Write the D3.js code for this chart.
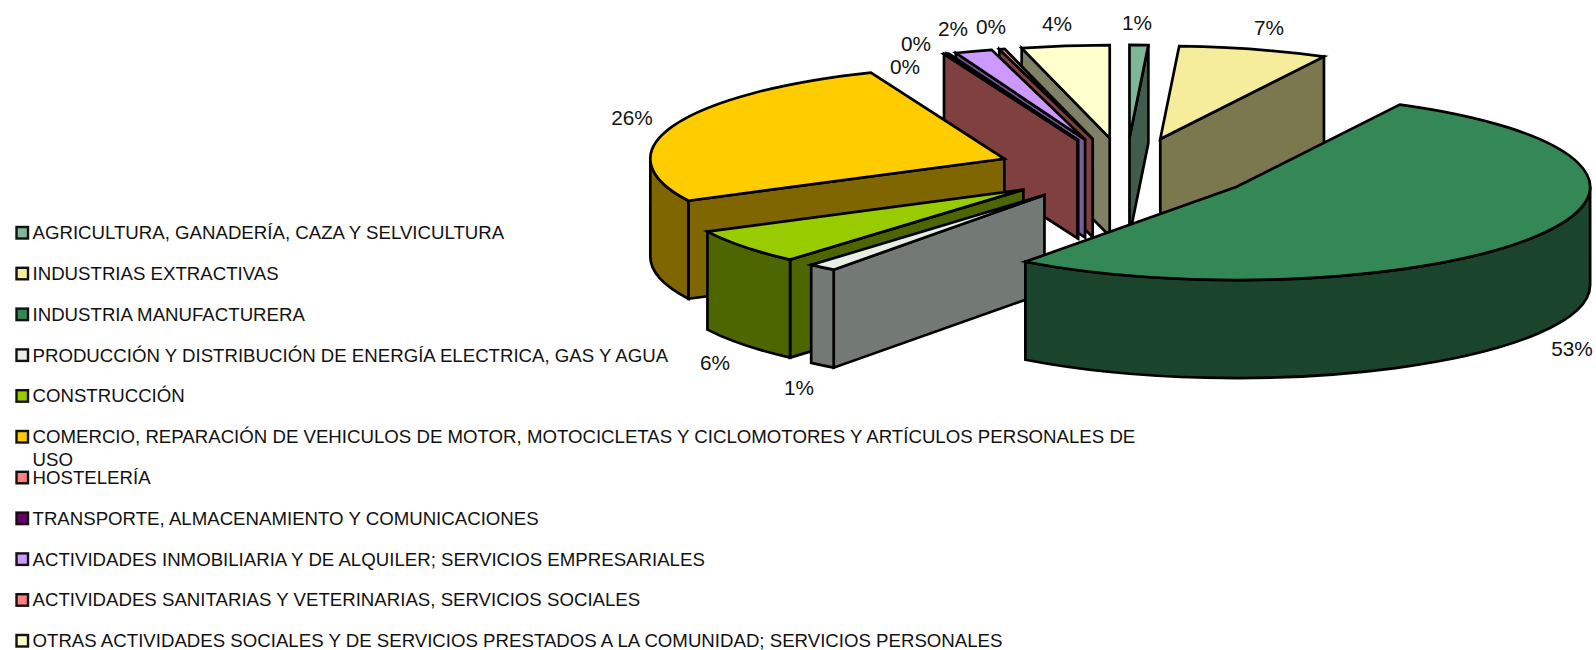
<!DOCTYPE html>
<html>
<head>
<meta charset="utf-8">
<script src="https://cdn.jsdelivr.net/npm/d3@7"></script>
<style>
  html, body { margin: 0; padding: 0; background: #fff; }
  text { font-family: "Liberation Sans", Arial, sans-serif; fill: #111; }
</style>
</head>
<body>
<div id="chart"></div>
<script>
// datos
const categories = [
    'AGRICULTURA, GANADERÍA, CAZA Y SELVICULTURA',
    'INDUSTRIAS EXTRACTIVAS',
    'INDUSTRIA MANUFACTURERA',
    'PRODUCCIÓN Y DISTRIBUCIÓN DE ENERGÍA ELECTRICA, GAS Y AGUA',
    'CONSTRUCCIÓN',
    'COMERCIO, REPARACIÓN DE VEHICULOS DE MOTOR, MOTOCICLETAS Y CICLOMOTORES Y ARTÍCULOS PERSONALES DE USO',
    'HOSTELERÍA',
    'TRANSPORTE, ALMACENAMIENTO Y COMUNICACIONES',
    'ACTIVIDADES INMOBILIARIA Y DE ALQUILER; SERVICIOS EMPRESARIALES',
    'ACTIVIDADES SANITARIAS Y VETERINARIAS, SERVICIOS SOCIALES',
    'OTRAS ACTIVIDADES SOCIALES Y DE SERVICIOS PRESTADOS A LA COMUNIDAD; SERVICIOS PERSONALES'
];
const shares = [0.85, 6.8, 52.5, 1.3, 6.1, 26.3, 0.1, 0.1, 1.7, 0.25, 4.0];
const topColors = ['#7fb899', '#f6ed9c', '#338855', '#e6eee6', '#99cc00', '#ffcc00', '#ff8080', '#660066', '#cc99ff', '#ff8080', '#ffffcc'];
const wallColors = ['#3f5c4c', '#7b774e', '#1a442b', '#737975', '#4d6600', '#806600', '#804040', '#330033', '#7a5c9c', '#804040', '#808066'];

// geometría de la tarta
const cx = 1126, cy = 170;
const rx = 354, ry = 93, depth = 98;
const explodeX = 0.367, explodeY = 0.345;

// de atrás hacia delante
const drawOrder = [10, 9, 8, 7, 6, 5, 4, 3, 0, 1, 2];

// centro de cada etiqueta de porcentaje
const labelAnchors = [[1137, 23], [1269, 28], [1572, 349], [799, 388], [715, 363], [632, 118], [905, 67], [916, 44], [953, 29], [991, 27], [1057, 24]];

const svg = d3.select('#chart').append('svg')
    .attr('width', 1596)
    .attr('height', 650);

const pie = d3.pie().sort(null).value(d => d);
const slices = pie(shares);

const polar = (c, a, dy = 0) => [c[0] + rx * Math.sin(a), c[1] - ry * Math.cos(a) + dy];

function arcTo(c, a0, a1, dy = 0) {
    const [x, y] = polar(c, a1, dy);
    const large = a1 - a0 > Math.PI ? 1 : 0;
    return `A${rx},${ry} 0 ${large} 1 ${x},${y}`;
}

function radialWall(c, a) {
    const p = polar(c, a), q = polar(c, a, depth);
    return `M${c[0]},${c[1]}L${p}L${q}L${c[0]},${c[1] + depth}Z`;
}

const pieG = svg.append('g');

drawOrder.forEach(i => {
    const s = slices[i];
    const mid = (s.startAngle + s.endAngle) / 2;
    // cada porción se separa igual a lo largo de su bisectriz
    const c = [cx + explodeX * rx * Math.sin(mid), cy - explodeY * ry * Math.cos(mid)];
    const g = pieG.append('g')
        .attr('stroke', '#000')
        .attr('stroke-width', 2.7)
        .attr('stroke-linejoin', 'miter');

    // paredes radiales que miran al observador
    if (Math.sin(s.startAngle) < 0) {
        g.append('path').attr('d', radialWall(c, s.startAngle)).attr('fill', wallColors[i]);
    }
    if (Math.sin(s.endAngle) > 0) {
        g.append('path').attr('d', radialWall(c, s.endAngle)).attr('fill', wallColors[i]);
    }

    // pared curva, solo la parte delantera
    const a0 = Math.max(s.startAngle, Math.PI / 2);
    const a1 = Math.min(s.endAngle, Math.PI * 1.5);
    if (a1 > a0) {
        g.append('path')
            .attr('d', `M${polar(c, a0)}${arcTo(c, a0, a1)}L${polar(c, a1, depth)}${arcTo(c, a1, a0, depth).replace(' 1 ', ' 0 ')}Z`)
            .attr('fill', wallColors[i]);
    }

    // cara superior
    g.append('path')
        .attr('d', `M${c[0]},${c[1]}L${polar(c, s.startAngle)}${arcTo(c, s.startAngle, s.endAngle)}Z`)
        .attr('fill', topColors[i]);
});

// etiquetas
const pct = d3.format('.0%');
svg.append('g').selectAll('text')
    .data(shares)
    .enter()
    .append('text')
    .attr('x', (d, i) => labelAnchors[i][0])
    .attr('y', (d, i) => labelAnchors[i][1])
    .attr('dy', '0.35em')
    .attr('text-anchor', 'middle')
    .style('font-size', '20.8px')
    .text(d => pct(d / 100));

// leyenda
const legendY = d3.scaleLinear().domain([0, 10]).range([232.5, 640.5]);
const legend = svg.append('g');
const legendWrap = 1125;

categories.forEach((name, i) => {
    const row = legend.append('g').attr('transform', `translate(0,${legendY(i)})`);
    row.append('rect')
        .attr('x', 16.5).attr('y', -5.5)
        .attr('width', 11.5).attr('height', 11.5)
        .attr('fill', topColors[i])
        .attr('stroke', '#111')
        .attr('stroke-width', 2.4);

    const text = row.append('text')
        .attr('x', 32.5)
        .attr('y', 0)
        .attr('dy', '0.36em')
        .style('font-size', '18.65px');

    // corta la línea si no cabe
    let tspan = text.append('tspan').text('');
    let line = [];
    name.split(' ').forEach(word => {
        line.push(word);
        tspan.text(line.join(' '));
        if (tspan.node().getComputedTextLength() > legendWrap) {
            line.pop();
            tspan.text(line.join(' '));
            line = [word];
            tspan = text.append('tspan').attr('x', 32.5).attr('dy', 22.5).text(word);
        }
    });
});
</script>
</body>
</html>
